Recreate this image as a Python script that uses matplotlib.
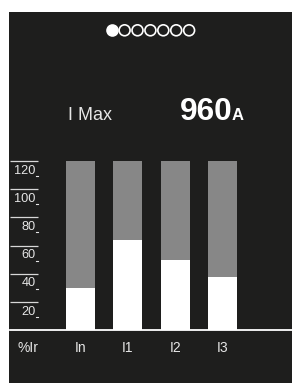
import matplotlib
matplotlib.use("Agg")
import matplotlib.pyplot as plt
from matplotlib import transforms
import numpy as np

plt.rcParams['font.family'] = ['Liberation Sans', 'DejaVu Sans']

# ---- data ----
categories = ["In", "I1", "I2", "I3"]
values = [30, 64, 50, 38]          # %Ir
max_scale = 120
ticks = [20, 40, 60, 80, 100, 120]
axis_label = "%Ir"
title_label = "I Max"
max_value = "960"
max_unit = "A"
n_pages = 7
active_page = 0

BG = "#1e1e1d"
GRAY = "#878787"
TXT = "#e6e6e6"

W, H = 292, 383
dpi = 100
fig = plt.figure(figsize=(W / dpi, H / dpi), dpi=dpi, facecolor="white")

# overlay axes in pixel coordinates
ov = fig.add_axes([0, 0, 1, 1])
ov.set_xlim(0, W)
ov.set_ylim(H, 0)
ov.axis("off")
ov.add_patch(plt.Rectangle((9, 12), W - 9, H - 12, facecolor=BG, edgecolor="none"))

# page dots
dx = np.arange(n_pages) * 12.9 + 111.7
for i, x in enumerate(dx):
    if i == active_page:
        ov.scatter([x], [30.3], s=62, color="white", edgecolors="white", linewidths=1.2, zorder=3)
    else:
        ov.scatter([x], [30.3], s=62, facecolors="none", edgecolors="white", linewidths=1.2, zorder=3)

# header texts
ov.text(68, 120, title_label, color=TXT, fontsize=13, ha="left", va="baseline")
ov.text(180, 120, max_value, color="white", fontsize=22.8, fontweight="bold", ha="left", va="baseline")
ov.text(231.5, 120, max_unit, color="white", fontsize=12, fontweight="bold", ha="left", va="baseline")

# bar axes
y0_px, y120_px = 330.3, 161.0
x_left, x_right = 10, 292
bottom = (H - y0_px) / H
height = (y0_px - y120_px) / H
ax = fig.add_axes([x_left / W, bottom, (x_right - x_left) / W, height])
ax.set_facecolor("none")
ax.axis("off")
step = 47.3
xl = -(80.5 - x_left) / step
xr = 3 + (x_right - 222.5) / step
ax.set_xlim(xl, xr)
ax.set_ylim(0, max_scale)

pos = np.arange(len(categories))
bw = 29 / step
ax.bar(pos, [max_scale] * len(categories), width=bw, color=GRAY, zorder=1)
ax.bar(pos, values, width=bw, color="white", zorder=2)
ax.axhline(0, color="white", lw=1.3, zorder=3, clip_on=False)

# ticks
tick_end = xl + 28 / step
ax.hlines(ticks, xl, tick_end, color="#d8d8d8", lw=0.9, clip_on=False)
lab_trans = transforms.offset_copy(ax.transData, fig=fig, x=0, y=-3.5 * 0.72, units="points")
und_trans = transforms.offset_copy(ax.transData, fig=fig, x=0, y=-15 * 0.72, units="points")
lab_x = xl + 25.5 / step
for tv in ticks:
    ax.text(lab_x, tv, str(tv), transform=lab_trans, color=TXT, fontsize=9.2,
            ha="right", va="top", clip_on=False)
    ax.plot([lab_x + 0.2 / step, tick_end], [tv, tv], transform=und_trans, color=TXT, lw=0.8, clip_on=False)

# category labels
cat_trans = transforms.offset_copy(ax.transData, fig=fig, x=0, y=-18 * 0.72, units="points")
for p, c in zip(pos, categories):
    ax.text(p, 0, c, transform=cat_trans, color=TXT, fontsize=10, ha="center", va="center", clip_on=False)
ax.text(xl + 7 / step, 0, axis_label, transform=cat_trans, color=TXT, fontsize=10,
        ha="left", va="center", clip_on=False)

fig.savefig("out.png", dpi=dpi, facecolor="white")
